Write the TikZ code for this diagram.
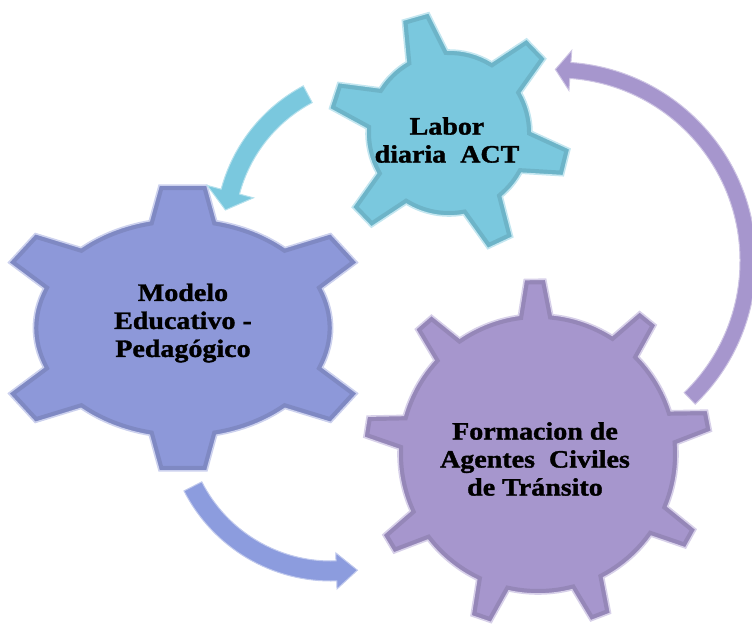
\documentclass[tikz,border=0pt]{standalone}
\usepackage{fontspec}
\setmainfont{Liberation Serif}[FakeStretch=1.12, BoldFeatures={FakeBold=1.4}]
\usetikzlibrary{calc}

\definecolor{tealgear}{RGB}{122,200,222}
\definecolor{bluegear}{RGB}{141,152,217}
\definecolor{purplegear}{RGB}{166,150,205}
\definecolor{bluearrow}{RGB}{140,156,222}

% centre x, centre y, x stretch, body radius, tip radius, tooth angles (rising), last angle - 360, base half angle, tip half angle
\newcommand{\gearoutline}[9]{%
  ({#1+#3*#4*cos(#7+#8)},{#2+#4*sin(#7+#8)})
  \foreach \t [remember=\t as \p (initially #7)] in {#6}{
    arc[start angle={\p+#8}, end angle={\t-#8}, x radius={#3*#4*1pt}, y radius={#4*1pt}]
    -- ({#1+#3*#5*cos(\t-#9)},{#2+#5*sin(\t-#9)})
    -- ({#1+#3*#5*cos(\t+#9)},{#2+#5*sin(\t+#9)})
    -- ({#1+#3*#4*cos(\t+#8)},{#2+#4*sin(\t+#8)})
  } -- cycle}

% colour, gear outline arguments
\newcommand{\drawgear}[2]{%
  \fill[#1] \gearoutline#2;
  \begin{scope}
    \clip \gearoutline#2;
    \draw[#1!55!black, opacity=.22, line width=10pt] \gearoutline#2;
  \end{scope}
  \draw[#1!45!white, line width=1.6pt] \gearoutline#2;
}

% colour, turning point, radius, from angle, to angle, half shaft, half head, head length
\newcommand{\bentarrow}[8]{%
  \filldraw[fill=#1, draw=#1!55!white, line width=1pt]
    ([shift={#2}]{#4}:{#3+#6}) arc[start angle=#4, end angle=#5, radius={(#3+#6)*1pt}]
    -- ([shift={#2}]{#5}:{#3+#7})
    -- ($#2+({#5}:{#3})+({#5+90}:{#8})$)
    -- ([shift={#2}]{#5}:{#3-#7})
    -- ([shift={#2}]{#5}:{#3-#6}) arc[start angle=#5, end angle=#4, radius={(#3-#6)*1pt}]
    -- cycle;
}

\tikzset{gearlabel/.style={font=\bfseries\fontsize{25}{28}\selectfont, align=center}}

\begin{document}
\begin{tikzpicture}[x=1pt, y=1pt]
  \useasboundingbox (0,0) rectangle (752,627);

  % gears
  \drawgear{bluegear}{{183}{299}{1.36}{110}{144}{-90,-34,34,90,146,214}{-146}{13}{7}}
  \drawgear{purplegear}{{538}{173}{1}{140}{175}{91,131,171,211,251,291,331,371,411}{51}{7}{3.5}}
  \drawgear{tealgear}{{449}{494}{1}{83}{122}{106,162,224,295,346,404}{44}{15}{6.5}}

  % turning points of the arrows
  \coordinate (tealturn) at (381,395);
  \coordinate (purpleturn) at (557,366);
  \coordinate (blueturn) at (331,211);

  \bentarrow{tealgear}{(tealturn)}{156}{118}{165}{9.5}{24}{19}
  \bentarrow{purplegear}{(purpleturn)}{191}{-46}{86}{8}{20}{15}
  \bentarrow{bluearrow}{(blueturn)}{155}{207}{272}{10}{18}{21}

  \node[gearlabel] (labor) at (447,487) {Labor\\diaria\ \ ACT};
  \node[gearlabel] (modelo) at (183,304) {Modelo\\Educativo -\\Pedagógico};
  \node[gearlabel] (formacion) at (535,168) {Formacion de\\Agentes\ \ Civiles\\de Tránsito};
\end{tikzpicture}
\end{document}
